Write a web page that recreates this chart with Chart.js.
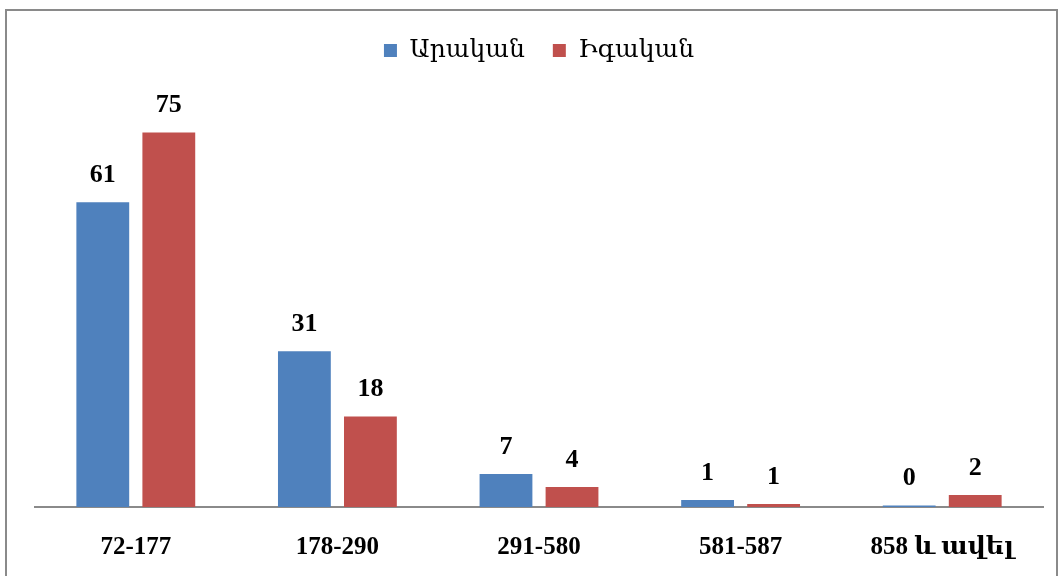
<!DOCTYPE html>
<html>
<head>
<meta charset="utf-8">
<script src="https://cdn.jsdelivr.net/npm/chart.js@4/dist/chart.umd.min.js"></script>
<style>
  html, body { margin: 0; padding: 0; background: #fff; }
  .wrap { position: relative; width: 1063px; height: 576px; overflow: hidden; }
  .frame { position: absolute; left: 5px; top: 9px; width: 1053px; height: 600px; border: 2px solid #8a8a8a; box-sizing: border-box; }
  canvas { position: absolute; left: 0; top: 0; }
</style>
</head>
<body>
<div class="wrap">
  <div class="frame"></div>
  <canvas id="chart" width="1063" height="576"></canvas>
</div>
<script>
const categories = ["72-177", "178-290", "291-580", "581-587", "858 և ավել"];
const maleValues = [61, 31.2, 6.6, 1.4, 0.3];
const femaleValues = [75, 18.1, 4.0, 0.6, 2.4];
const seriesNames = ["Արական", "Իգական"];

const FONT = "'Liberation Serif', 'DejaVu Serif', serif";

/* ===== VALUE LABELS ===== */
const valueLabels = {
    id: "valueLabels",
    afterDatasetsDraw(chart) {
        const ctx = chart.ctx;
        ctx.save();
        ctx.font = "bold 26px " + FONT;
        ctx.fillStyle = "#000";
        ctx.textAlign = "center";
        ctx.textBaseline = "middle";
        chart.data.datasets.forEach((ds, i) => {
            chart.getDatasetMeta(i).data.forEach((bar, j) => {
                ctx.fillText(Math.round(ds.data[j]), bar.x, bar.y - 27);
            });
        });
        ctx.restore();
    }
};

const ctx = document.getElementById("chart").getContext("2d");
new Chart(ctx, {
    type: "bar",
    data: {
        labels: categories,
        datasets: [
            { label: seriesNames[0], data: maleValues, backgroundColor: "#4f81bd" },
            { label: seriesNames[1], data: femaleValues, backgroundColor: "#c0504d" }
        ]
    },
    options: {
        responsive: false,
        animation: false,
        categoryPercentage: 0.655,
        barPercentage: 0.8,
        layout: { padding: { left: 35, right: 20, top: 10, bottom: -13 } },
        plugins: {
            legend: {
                position: "top",
                labels: {
                    boxWidth: 13,
                    boxHeight: 13,
                    padding: 28,
                    color: "#000",
                    font: { family: FONT, size: 25 }
                }
            },
            tooltip: { enabled: false }
        },
        scales: {
            x: {
                grid: { display: false, drawTicks: false },
                border: { color: "#8a8a8a", width: 2 },
                ticks: { color: "#000", padding: 26, font: { family: FONT, size: 25, weight: "bold" } }
            },
            y: {
                display: false,
                min: 0,
                max: 86.9
            }
        }
    },
    plugins: [valueLabels]
});
</script>
</body>
</html>
